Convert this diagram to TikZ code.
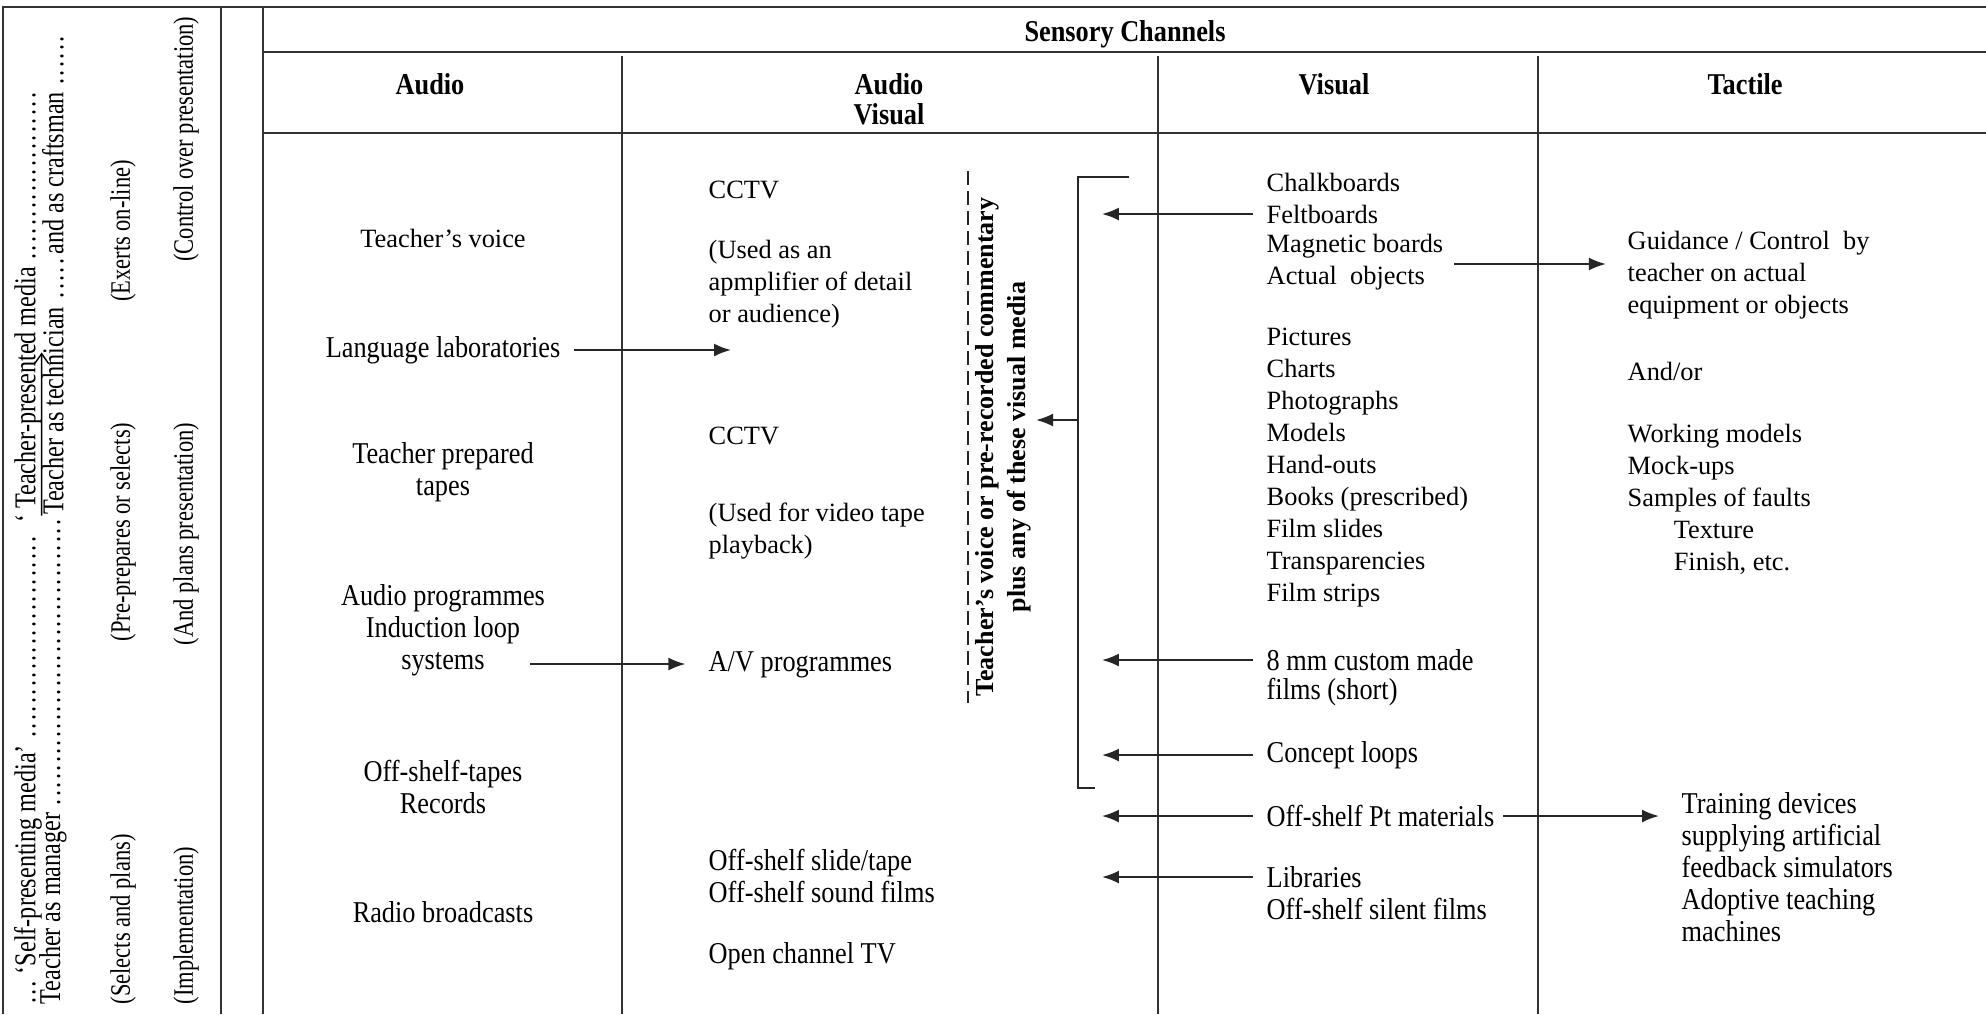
\documentclass[tikz,border=0pt]{standalone}
\usepackage{fontspec}
\setmainfont{Liberation Serif}
\newfontfamily\condfont[FakeStretch=0.87]{Liberation Serif}
\newfontfamily\narrowfont[FakeStretch=0.8]{Liberation Serif}
\usetikzlibrary{arrows.meta,calc}

\newcommand\dotrun[1]{\makebox[#1]{\leaders\hbox to 0.28em{\hss.\hss}\hfill}}

\tikzset{
  rule/.style={line width=0.8pt,draw=black!80},
  item/.style={inner sep=0pt,anchor=west,align=left,font=\fontsize{7.5}{9.1}\selectfont},
  rcentre/.style={inner sep=0pt,align=center,font=\fontsize{7.5}{9.1}\selectfont},
  citem/.style={inner sep=0pt,anchor=west,align=left,font=\condfont\fontsize{8.6}{9.1}\selectfont},
  ccentre/.style={inner sep=0pt,align=center,font=\condfont\fontsize{8.6}{9.1}\selectfont},
  head/.style={inner sep=0pt,align=center,font=\condfont\bfseries\fontsize{8.6}{8.6}\selectfont},
  vtext/.style={inner sep=0pt,rotate=90,align=center,font=\bfseries\fontsize{7.4}{9.1}\selectfont},
  side/.style={inner sep=0pt,rotate=90,font=\narrowfont\fontsize{8}{9}\selectfont},
  sideline/.style={side,anchor=west,font=\narrowfont\fontsize{8.6}{9}\selectfont},
  arr/.style={line width=0.6pt,draw=black!85,-{Latex[length=1.7mm,width=1.3mm]}},
  thin arr/.style={line width=0.4pt,-{Straight Barb[length=1mm,width=1.4mm]}},
  bracket/.style={line width=0.6pt,draw=black!85},
  dashline/.style={line width=0.6pt,draw=black!85,dash pattern=on 1.4mm off 0.6mm}
}

\begin{document}
\begin{tikzpicture}[x=0.01cm,y=-0.01cm]
    \useasboundingbox (0,0) rectangle (1986,1014);

    \draw[rule] (3,1014) -- (3,7) -- (1986,7);
    \draw[rule] (221,7) -- (221,1014);
    \draw[rule] (263,7) -- (263,1014);
    \draw[rule] (263,52) -- (1986,52);
    \draw[rule] (263,133) -- (1986,133);
    \foreach \x in {622,1158,1538}
        \draw[rule] (\x,56) -- (\x,1014);

    \node (selfline) at (28,1005) [sideline] {\ldots\ ‘Self-presenting media’\ \dotrun{2.1cm}\ ‘\ Teacher-presented media\ \dotrun{1.75cm}};
    \node (manager) at (53,1005) [sideline] {Teacher as manager\ \dotrun{2.9cm}\ };
    \node (technician) at (manager.east) [sideline] {Teacher as technician};
    \node (craftsman) at (technician.east) [sideline] {\ \dotrun{0.45cm}and as craftsman\ \dotrun{0.55cm}};
    \coordinate (techhead) at ($(technician.north west)!0.78!(technician.north east)$);
    \draw[thin arr] (technician.north west) -- (techhead);

    \node (selects) at (123,1005) [side,anchor=west] {(Selects and plans)};
    \node (prepares) at (123,532) [side] {(Pre-prepares or selects)};
    \node (exerts) at (123,231) [side] {(Exerts on-line)};
    \node (implement) at (186,1005) [side,anchor=west] {(Implementation)};
    \node (plans) at (186,534) [side] {(And plans presentation)};
    \node (control) at (186,139) [side] {(Control over presentation)};

    \node (sensory) at (1125,34) [head] {Sensory Channels};
    \node (haudio) at (430,84) [head] {Audio};
    \node (hav) at (889,99) [head] {Audio\\Visual};
    \node (hvis) at (1334,84) [head] {Visual};
    \node (htac) at (1745,84) [head] {Tactile};

    \node (voice) at (443,238) [rcentre] {Teacher’s voice};
    \node (langlab) at (443,350) [ccentre] {Language laboratories};
    \node (tapes) at (443,472) [ccentre] {Teacher prepared\\tapes};
    \node (audioprog) at (443,614) [ccentre] {Audio programmes\\Induction loop};
    \node (systems) at (443,664) [ccentre] {systems};
    \node (offtapes) at (443,787) [ccentre] {Off-shelf-tapes\\Records};
    \node (radio) at (443,912) [ccentre] {Radio broadcasts};

    \node (cctvone) at (708,190) [item] {CCTV};
    \node (usedamp) at (708,284) [item] {(Used as an\\apmplifier of detail\\or audience)};
    \node (cctvtwo) at (708,436) [item] {CCTV};
    \node (usedvid) at (708,531) [item] {(Used for video tape\\playback)};
    \node (avprog) at (708,665) [citem] {A/V programmes};
    \node (offslide) at (708,876) [citem] {Off-shelf slide/tape\\Off-shelf sound films};
    \node (opentv) at (708,956) [citem] {Open channel TV};

    \coordinate (langtip) at ([xshift=17mm]langlab.east);
    \draw[arr] ([xshift=1.3mm]langlab.east) -- (langtip);
    \coordinate (systip) at ([xshift=20mm]systems.east);
    \draw[arr] ([xshift=4.5mm]systems.east) -- (systip);

    \draw[dashline] (968,171) -- (968,703);
    \node (commentary) at (1003,447) [vtext] {Teacher’s voice or pre-recorded commentary\\plus any of these visual media};

    \coordinate (brk-a) at (1129,177);
    \coordinate (brk-b) at (1078,177);
    \coordinate (brk-c) at (1078,788);
    \coordinate (brk-d) at (1095,788);
    \coordinate (brk-m) at (1078,420);
    \coordinate (brk-tip) at (1036,420);
    \draw[bracket] (brk-a) -- (brk-b) -- (brk-c) -- (brk-d);
    \draw[arr] (brk-m) -- (brk-tip);

    \node (chalk) at (1266,182) [item] {Chalkboards};
    \node (felt) at (1266,214) [item] {Feltboards};
    \node (magnet) at (1266,246) [item] {Magnetic boards};
    \node (actual) at (1266,278) [item] {Actual\ \ objects};
    \node (media) at (1266,468) [item] {Pictures\\Charts\\Photographs\\Models\\Hand-outs\\Books (prescribed)\\Film slides\\Transparencies\\Film strips};
    \node (eightmm) at (1266,660) [citem] {8 mm custom made};
    \node (eightmmb) at (1266,692) [citem] {films (short)};
    \node (concept) at (1266,755) [citem] {Concept loops};
    \node (offpt) at (1266,816) [citem] {Off-shelf Pt materials};
    \node (libraries) at (1266,877) [citem] {Libraries};
    \node (silent) at (1266,909) [citem] {Off-shelf silent films};

    \foreach \n in {felt,eightmm,concept,offpt,libraries} {
        \coordinate (\n-tip) at ([xshift=-16.4mm]\n.west);
        \draw[arr] ([xshift=-1.3mm]\n.west) -- (\n-tip);
    }

    \node (guidance) at (1627,275) [item] {Guidance / Control\ \ by\\teacher on actual\\equipment or objects};
    \node (andor) at (1627,371) [item] {And/or};
    \node (models) at (1627,499) [item] {Working models\\Mock-ups\\Samples of faults\\\hspace*{4.6mm}Texture\\\hspace*{4.6mm}Finish, etc.};
    \node (training) at (1681,867) [citem] {Training devices\\supplying artificial\\feedback simulators\\Adoptive teaching\\machines};

    \coordinate (guidtip) at ([shift={(162,18)}]magnet.east);
    \draw[arr] ([shift={(10,18)}]magnet.east) -- (guidtip);
    \coordinate (traintip) at ([xshift=16.4mm]offpt.east);
    \draw[arr] ([xshift=0.8mm]offpt.east) -- (traintip);
\end{tikzpicture}
\end{document}
